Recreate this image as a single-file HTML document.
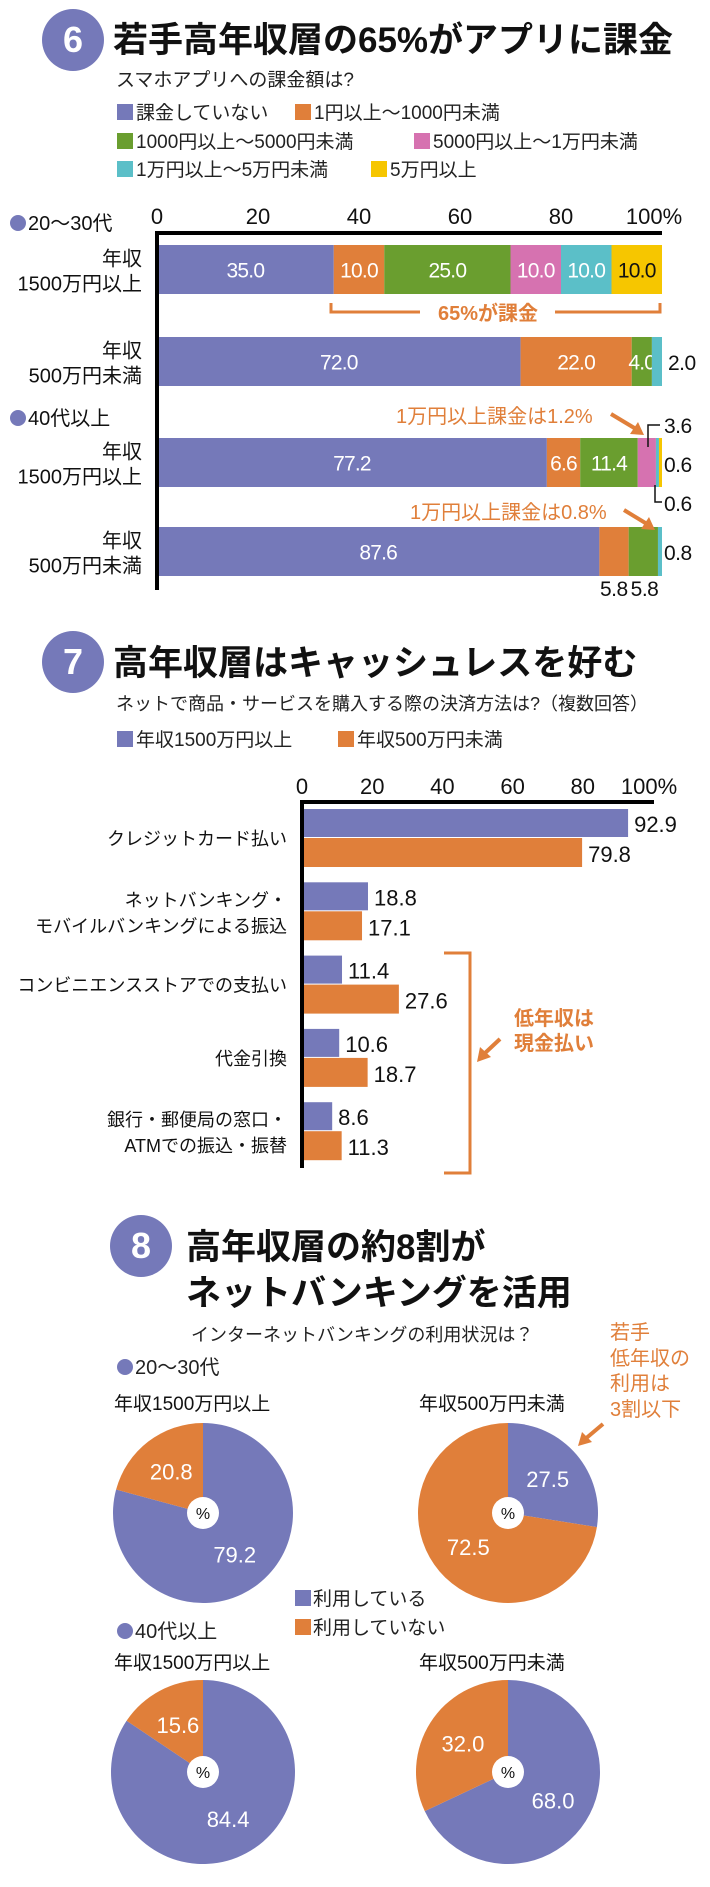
<!DOCTYPE html>
<html><head><meta charset="utf-8">
<style>
html,body{margin:0;padding:0;background:#fff;}
svg{display:block;font-family:"Liberation Sans","Noto Sans CJK JP",sans-serif;}
</style></head>
<body>
<svg id="chart" width="710" height="1887" viewBox="0 0 710 1887" xmlns="http://www.w3.org/2000/svg">
<!-- Section 6 header -->
<g>
<circle cx="73" cy="40" r="31" fill="#7579b9"/>
<text x="73" y="52" font-size="36" font-weight="bold" fill="#fff" text-anchor="middle">6</text>
<text x="113" y="52" font-size="35" font-weight="bold" fill="#111">若手高年収層の65%がアプリに課金</text>
<text x="116" y="86" font-size="19" fill="#222">スマホアプリへの課金額は?</text>
</g>
<g id="legend6"></g>
<g id="c6"></g>

<!-- Section 7 header -->
<g>
<circle cx="73" cy="662" r="31" fill="#7579b9"/>
<text x="73" y="674" font-size="36" font-weight="bold" fill="#fff" text-anchor="middle">7</text>
<text x="113" y="675" font-size="35" font-weight="bold" fill="#111">高年収層はキャッシュレスを好む</text>
<text x="116" y="710" font-size="18" fill="#222">ネットで商品・サービスを購入する際の決済方法は?（複数回答）</text>
<rect x="117" y="731" width="16" height="16" fill="#7579b9"/>
<text x="136" y="746" font-size="19" fill="#222">年収1500万円以上</text>
<rect x="338" y="731" width="16" height="16" fill="#e07f3a"/>
<text x="357" y="746" font-size="19" fill="#222">年収500万円未満</text>
</g>
<g id="c7"></g>

<!-- Section 8 header -->
<g>
<circle cx="141" cy="1246" r="31" fill="#7579b9"/>
<text x="141" y="1258" font-size="36" font-weight="bold" fill="#fff" text-anchor="middle">8</text>
<text x="186" y="1259" font-size="35" font-weight="bold" fill="#111">高年収層の約8割が</text>
<text x="186" y="1305" font-size="35" font-weight="bold" fill="#111">ネットバンキングを活用</text>
<text x="191" y="1341" font-size="18" fill="#222">インターネットバンキングの利用状況は？</text>
<g fill="#e07f3a" font-size="20">
<text x="610" y="1339">若手</text><text x="610" y="1365">低年収の</text><text x="610" y="1390">利用は</text><text x="610" y="1416">3割以下</text>
</g>
<line x1="603" y1="1424" x2="584" y2="1440" stroke="#e07f3a" stroke-width="4"/>
<polygon points="578,1446 582,1432 592,1442" fill="#e07f3a"/>
<circle cx="125" cy="1367" r="8" fill="#7579b9"/>
<text x="135" y="1374" font-size="20" fill="#222">20～30代</text>
<circle cx="125" cy="1631" r="8" fill="#7579b9"/>
<text x="135" y="1638" font-size="20" fill="#222">40代以上</text>
<rect x="295" y="1590" width="16" height="16" fill="#7579b9"/>
<text x="313" y="1605" font-size="19" fill="#222">利用している</text>
<rect x="295" y="1619" width="16" height="16" fill="#e07f3a"/>
<text x="313" y="1634" font-size="19" fill="#222">利用していない</text>
</g>
<g id="c8"></g>
</svg>
<script>
// ---------- Chart 6 data ----------
const c6Categories = ["課金していない","1円以上～1000円未満","1000円以上～5000円未満","5000円以上～1万円未満","1万円以上～5万円未満","5万円以上"];
const c6Rows = [["年収","1500万円以上"],["年収","500万円未満"],["年収","1500万円以上"],["年収","500万円未満"]];
const c6Row1 = [35.0,10.0,25.0,10.0,10.0,10.0];
const c6Row2 = [72.0,22.0,4.0,0,2.0,0];
const c6Row3 = [77.2,6.6,11.4,3.6,0.6,0.6];
const c6Row4 = [87.6,5.8,5.8,0,0.8,0];
const c6Ticks = [0,20,40,60,80,100];
const c6TickLabels = ["0","20","40","60","80","100%"];
// ---------- Chart 7 data ----------
const c7Categories = [["クレジットカード払い"],["ネットバンキング・","モバイルバンキングによる振込"],["コンビニエンスストアでの支払い"],["代金引換"],["銀行・郵便局の窓口・","ATMでの振込・振替"]];
const c7High = [92.9,18.8,11.4,10.6,8.6];
const c7Low = [79.8,17.1,27.6,18.7,11.3];
const c7Ticks = [0,20,40,60,80,100];
const c7TickLabels = ["0","20","40","60","80","100%"];
// ---------- Chart 8 data ----------
const c8Titles = ["年収1500万円以上","年収500万円未満","年収1500万円以上","年収500万円未満"];
const c8Use = [79.2,27.5,84.4,68.0];
const c8NoUse = [20.8,72.5,15.6,32.0];

const NS="http://www.w3.org/2000/svg";
const colors6=["#7579b9","#e07f3a","#6a9e2f","#d672b0","#5bbfc8","#f6c600"];
function mk(tag,attrs,parent,txt){const e=document.createElementNS(NS,tag);for(const k in attrs)e.setAttribute(k,attrs[k]);if(txt!==undefined)e.textContent=txt;parent.appendChild(e);return e;}

// Legend 6
const lg=document.getElementById('legend6');
const legPos=[[117,104],[295,104],[117,133],[414,133],[117,161],[371,161]];
c6Categories.forEach((c,i)=>{
  const r=mk('rect',{x:legPos[i][0],y:legPos[i][1],width:16,height:16,fill:colors6[i]},lg);
  
  
  const t=mk('text',{x:legPos[i][0]+19,y:legPos[i][1]+15,'font-size':19,fill:'#222'},lg,c);
  
  
});

// Chart 6
const g6=document.getElementById('c6');
const x6=v=>157+v*5.05;
const rowTops=[245,337,438,527], barH=49;
const rows6=[c6Row1,c6Row2,c6Row3,c6Row4];
c6Ticks.forEach((t,i)=>{
  const e=mk('text',{x:x6(t)+(i===5?-8:0),y:224,'font-size':22,'text-anchor':'middle',fill:'#111'},g6,c6TickLabels[i]);
  
  
});
rows6.forEach((vals,ri)=>{
  let acc=0;const y=rowTops[ri];
  vals.forEach((v,si)=>{
    if(v<=0){return;}
    const r=mk('rect',{x:x6(acc),y:y,width:x6(acc+v)-x6(acc),height:barH,fill:colors6[si]},g6);
    
    
    const inside = (ri<3 && v>=4) || (ri===3 && si===0);
    if(inside){
      const t=mk('text',{x:(x6(acc)+x6(acc+v))/2,y:y+barH/2+8,'font-size':21,'letter-spacing':-0.8,'text-anchor':'middle',fill:si===5?'#111':'#fff'},g6,v.toFixed(1));
      
      
    }
    acc+=v;
  });
  const cy=y+barH/2;
  const l1=mk('text',{x:142,y:cy-4,'font-size':20,'text-anchor':'end',fill:'#111'},g6,c6Rows[ri][0]);
  
  
  const l2=mk('text',{x:142,y:cy+21,'font-size':20,'text-anchor':'end',fill:'#111'},g6,c6Rows[ri][1]);
  
  
});
// outside labels
function otext(x,y,s,name,anchor){const t=mk('text',{x:x,y:y,'font-size':21,'letter-spacing':-0.5,fill:'#111','text-anchor':anchor||'start'},g6,s);return t;}
otext(668,370,c6Row2[4].toFixed(1),'value-row2-seg5');
otext(664,433,c6Row3[3].toFixed(1),'value-row3-seg4');
otext(664,472,c6Row3[4].toFixed(1),'value-row3-seg5');
otext(664,511,c6Row3[5].toFixed(1),'value-row3-seg6');
otext(664,560,c6Row4[4].toFixed(1),'value-row4-seg5');
otext(x6(c6Row4[0]+c6Row4[1])-1,596,c6Row4[1].toFixed(1),'value-row4-seg2','end');
otext(x6(c6Row4[0]+c6Row4[1])+2,596,c6Row4[2].toFixed(1),'value-row4-seg3','start');
const lk=mk('path',{d:'M660,425 H648 V447 M655,485 V502 H662',stroke:'#111','stroke-width':1.5,fill:'none'},g6);


// axes
const ax1=mk('line',{x1:155,y1:233,x2:662,y2:233,stroke:'#000','stroke-width':4},g6);


const ay1=mk('line',{x1:157,y1:231,x2:157,y2:590,stroke:'#000','stroke-width':4},g6);


// group labels
[[223,'20～30代'],[418,'40代以上']].forEach((gl,i)=>{
  const d=mk('circle',{cx:18,cy:gl[0],r:8,fill:'#7579b9'},g6);
  
  
  const t=mk('text',{x:28,y:gl[0]+7,'font-size':20,fill:'#111'},g6,gl[1]);
  
  
});
// bracket 65%
const br=mk('path',{d:'M331,303 V312 H420 M555,312 H660 V303',stroke:'#e07f3a','stroke-width':3,fill:'none'},g6);


const bt=mk('text',{x:488,y:320,'font-size':20,'font-weight':'bold',fill:'#e07f3a','text-anchor':'middle'},g6,'65%が課金');


[[396,423,'1万円以上課金は1.2%',[611,414,640,432]],[410,519,'1万円以上課金は0.8%',[624,510,651,527]]].forEach((a,i)=>{
  const t=mk('text',{x:a[0],y:a[1],'font-size':20,fill:'#e07f3a'},g6,a[2]);
  
  
  const p=a[3];
  const l=mk('line',{x1:p[0],y1:p[1],x2:p[2]-4,y2:p[3]-3,stroke:'#e07f3a','stroke-width':4},g6);
  
  
  const h=mk('polygon',{points:`${p[2]+4},${p[3]+3} ${p[2]-10},${p[3]+2} ${p[2]-2},${p[3]-10}`,fill:'#e07f3a'},g6);
  
  
});

// Chart 7
const g7=document.getElementById('c7');
const x7=v=>302+v*3.51;
c7Ticks.forEach((t,i)=>{
  const e=mk('text',{x:x7(t)+(i===5?-4:0),y:794,'font-size':22,'text-anchor':'middle',fill:'#111'},g7,c7TickLabels[i]);
  
  
});
c7Categories.forEach((cat,i)=>{
  const y=809+i*73.3;
  const b1=mk('rect',{x:x7(0),y:y,width:x7(c7High[i])-x7(0),height:28,fill:'#7579b9'},g7);
  
  
  const b2=mk('rect',{x:x7(0),y:y+29,width:x7(c7Low[i])-x7(0),height:29,fill:'#e07f3a'},g7);
  
  
  const v1=mk('text',{x:x7(c7High[i])+6,y:y+23,'font-size':22,fill:'#111'},g7,c7High[i].toFixed(1));
  
  
  const v2=mk('text',{x:x7(c7Low[i])+6,y:y+53,'font-size':22,fill:'#111'},g7,c7Low[i].toFixed(1));
  
  
  const cy=y+29;
  cat.forEach((ln,j)=>{
    const off = cat.length===1?7:(j===0?-5:21);
    const t=mk('text',{x:287,y:cy+off,'font-size':18,'text-anchor':'end',fill:'#111'},g7,ln);
    
    
  });
});
const ax7=mk('line',{x1:300,y1:802,x2:654,y2:802,stroke:'#000','stroke-width':4},g7);


const ay7=mk('line',{x1:302,y1:800,x2:302,y2:1168,stroke:'#000','stroke-width':4},g7);


const br7=mk('path',{d:'M444,953 H470 V1173 H444',stroke:'#e07f3a','stroke-width':3,fill:'none'},g7);


const n1=mk('text',{x:514,y:1025,'font-size':20,'font-weight':'bold',fill:'#e07f3a'},g7,'低年収は');


const n2=mk('text',{x:514,y:1050,'font-size':20,'font-weight':'bold',fill:'#e07f3a'},g7,'現金払い');


const al=mk('line',{x1:500,y1:1039,x2:484,y2:1054,stroke:'#e07f3a','stroke-width':4},g7);


const ah=mk('polygon',{points:'477,1062 480,1047 491,1057',fill:'#e07f3a'},g7);



// Chart 8
const g8=document.getElementById('c8');
const pies=[[203,1513,90,1410],[508,1513,90,1410],[203,1772,92,1669],[508,1772,92,1669]];
function pt(cx,cy,r,frac){const a=frac*2*Math.PI;return [cx+r*Math.sin(a),cy-r*Math.cos(a)];}
function arc(cx,cy,r,f0,f1){const p0=pt(cx,cy,r,f0),p1=pt(cx,cy,r,f1);const large=(f1-f0)>0.5?1:0;return `M${cx},${cy} L${p0[0]},${p0[1]} A${r},${r} 0 ${large} 1 ${p1[0]},${p1[1]} Z`;}
pies.forEach((p,i)=>{
  const [cx,cy,r,ty]=p;
  const tt=mk('text',{x:cx-89,y:ty,'font-size':19,fill:'#111'},g8,c8Titles[i]);
  
  
  const tot=c8Use[i]+c8NoUse[i];
  const fu=c8Use[i]/tot;
  const s1=mk('path',{d:arc(cx,cy,r,0,fu),fill:'#7579b9'},g8);
  
  
  const s2=mk('path',{d:arc(cx,cy,r,fu,1),fill:'#e07f3a'},g8);
  
  
  const m1=pt(cx,cy,r*0.58,fu/2), m2=pt(cx,cy,r*0.58,(fu+1)/2);
  const t1=mk('text',{x:m1[0],y:m1[1]+8,'font-size':22,fill:'#fff','text-anchor':'middle'},g8,c8Use[i].toFixed(1));
  
  
  const t2=mk('text',{x:m2[0],y:m2[1]+8,'font-size':22,fill:'#fff','text-anchor':'middle'},g8,c8NoUse[i].toFixed(1));
  
  
  const c=mk('circle',{cx:cx,cy:cy,r:16,fill:'#fff'},g8);
  
  
  const pc=mk('text',{x:cx,y:cy+6,'font-size':16,fill:'#111','text-anchor':'middle'},g8,'%');
  
  
});
</script>
</body></html>
